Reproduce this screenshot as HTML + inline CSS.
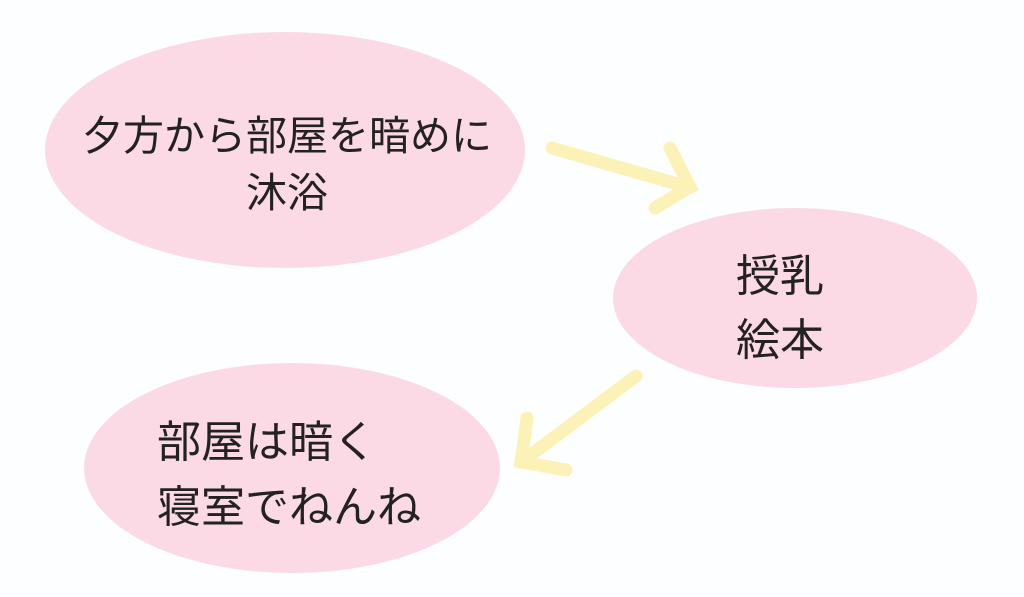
<!DOCTYPE html>
<html><head><meta charset="utf-8"><style>
html,body{margin:0;padding:0;background:#fdfeff;}
svg{display:block}
text{font-family:"Liberation Sans","Noto Sans CJK JP",sans-serif;font-size:40px;fill:#222;}
.b{font-size:44px}
</style></head><body>
<svg width="1024" height="597" viewBox="0 0 1024 597">
<rect width="1024" height="597" fill="#fdfeff"/>
<ellipse cx="285" cy="150" rx="240" ry="118" fill="#fbdae6"/>
<ellipse cx="795" cy="298" rx="182" ry="90" fill="#fbdae6"/>
<ellipse cx="292" cy="468" rx="208" ry="105" fill="#fbdae6"/>
<g stroke="#fcf2b8" stroke-width="13" stroke-linecap="round" fill="none">
<line x1="552" y1="148" x2="688" y2="187"/>
<polyline points="670,148 690,187 655,208"/>
<line x1="636" y1="376" x2="524" y2="460"/>
<polyline points="527,418 521,462 566,470"/>
</g>
<text x="287" y="150" text-anchor="middle" style="font-size:41px">夕方から部屋を暗めに</text>
<text x="287" y="207" text-anchor="middle" style="font-size:41px">沐浴</text>
<text class="b" x="780" y="291" text-anchor="middle">授乳</text>
<text class="b" x="780" y="355" text-anchor="middle">絵本</text>
<text class="b" x="157" y="457">部屋は暗く</text>
<text class="b" x="157" y="522">寝室でねんね</text>
</svg>
</body></html>
